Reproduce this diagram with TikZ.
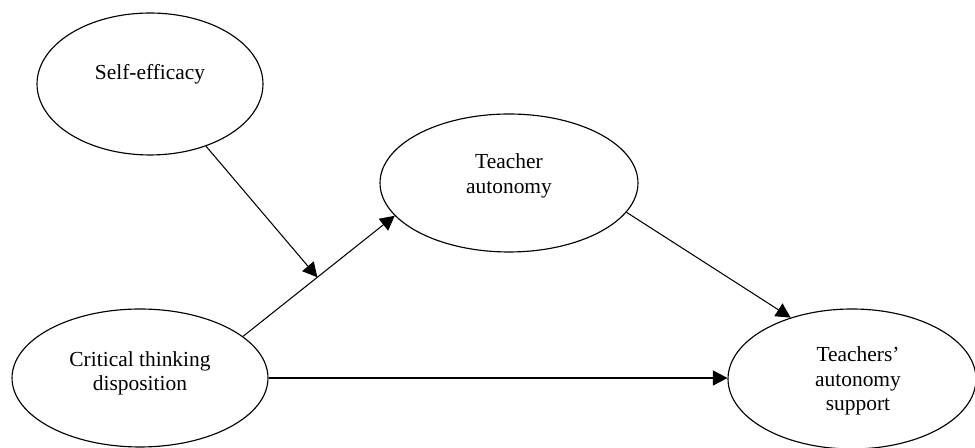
\documentclass[tikz,border=0pt]{standalone}
\usepackage{fontspec}
\setmainfont{Liberation Serif}
\usetikzlibrary{positioning,arrows.meta,shapes.geometric}

\begin{document}
\begin{tikzpicture}[
      x=0.02cm, y=-0.02cm,
      oval/.style={draw, ellipse, line width=0.65pt, inner sep=0pt},
      lbl/.style={align=center, font=\fontsize{12.2}{13.8}\selectfont},
      arr/.style={-{Triangle[length=2.9mm, width=3mm]}, line width=0.6pt},
    ]
    \useasboundingbox (0,0) rectangle (975,448);
    \node[oval, minimum width=4.52cm, minimum height=2.84cm,
          label={[lbl, name=se-t, yshift=0.2cm]center:Self-efficacy}] (se) at (150,84) {};
    \node[oval, minimum width=5.16cm, minimum height=2.76cm,
          label={[lbl, name=ta-t, yshift=0.14cm]center:Teacher\\autonomy}] (ta) at (509,183) {};
    \node[oval, minimum width=5.12cm, minimum height=2.76cm,
          label={[lbl, name=ctd-t, yshift=0.1cm]center:Critical thinking\\disposition}] (ctd) at (140,378) {};
    \node[oval, minimum width=4.96cm, minimum height=2.80cm,
          label={[lbl, name=tas-t, xshift=0.12cm, yshift=-0.04cm]center:Teachers’\\autonomy\\support}] (tas) at (852,379) {};
    \draw[arr] (ctd.22.7) -- coordinate[pos=0.49] (mod) (ta.196.5);
    \draw[arr] (se.-48.4) -- (mod);
    \draw[arr] (ta.-14.1) -- (tas.135.5);
    \draw[arr] (ctd.east) -- (ctd.east -| tas.west);
  \end{tikzpicture}
\end{document}
